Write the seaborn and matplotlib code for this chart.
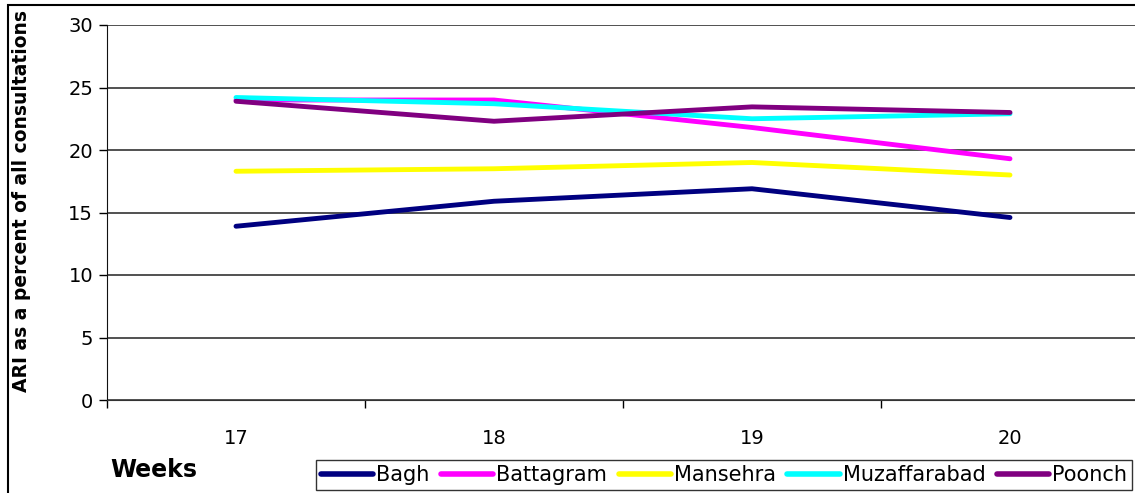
"""
ARI share of consultations by district, weeks 17-20.
"""

import pandas as pd
import matplotlib
matplotlib.use('Agg')
import matplotlib.pyplot as plt
from matplotlib.patches import Rectangle
import seaborn as sns

weeks = ['17', '18', '19', '20']
districts = ['Bagh', 'Battagram', 'Mansehra', 'Muzaffarabad', 'Poonch']
bagh = [13.9, 15.9, 16.9, 14.6]
battagram = [24.0, 24.0, 21.8, 19.3]
mansehra = [18.3, 18.5, 19.0, 18.0]
muzaffarabad = [24.2, 23.7, 22.5, 22.9]
poonch = [23.9, 22.3, 23.45, 23.0]
colors = ['#000080', '#FF00FF', '#FFFF00', '#00FFFF', '#800080']

series = [bagh, battagram, mansehra, muzaffarabad, poonch]
rows = []
for name, vals in zip(districts, series):
    for i, v in enumerate(vals):
        rows.append({'pos': i, 'week': weeks[i], 'district': name, 'ari': v})
df = pd.DataFrame(rows)

sns.set_style('white')
plt.rcParams['font.family'] = ['DejaVu Sans']
plt.rcParams['text.color'] = 'black'
plt.rcParams['xtick.color'] = 'black'
plt.rcParams['ytick.color'] = 'black'
plt.rcParams['axes.labelcolor'] = 'black'

fig = plt.figure(figsize=(11.35, 4.93), dpi=100)
ax = fig.add_axes([107 / 1135, 1 - 400 / 493, 1032 / 1135, 375 / 493])

sns.lineplot(data=df, x='pos', y='ari', hue='district', hue_order=districts,
             palette=colors, linewidth=3.5, sort=False, ax=ax,
             solid_capstyle='round')

ax.set_xlim(-0.5, 3.5)
ax.set_ylim(0, 30)
ax.set_yticks(range(0, 31, 5))
ax.tick_params(axis='y', labelsize=14, length=6, width=1, direction='out',
               left=True, pad=4)
ax.set_xticks([-0.5, 0.5, 1.5, 2.5])
ax.set_xticklabels([])
ax.set_xticks(range(4), minor=True)
ax.set_xticklabels(weeks, minor=True)
ax.tick_params(axis='x', which='major', length=6, width=1, direction='out',
               bottom=True)
ax.tick_params(axis='x', which='minor', length=0, labelsize=14, pad=21)
ax.grid(axis='y', color='#333333', linewidth=1.2)
ax.grid(axis='x', visible=False)
for s in ['top', 'right']:
    ax.spines[s].set_visible(False)
ax.spines['left'].set_color('#111111')
ax.spines['bottom'].set_color('#333333')
ax.set_xlabel('')
ax.set_ylabel('')

fig.text(22 / 1135, 1 - 201 / 493, 'ARI as a percent of all consultations',
         fontsize=13.5, fontweight='bold', rotation=90,
         ha='center', va='center')

handles, labels = ax.get_legend_handles_labels()
ax.get_legend().remove()
leg = fig.legend(handles, labels, loc='upper left', ncol=5,
                 bbox_to_anchor=(316 / 1135, 1 - 460 / 493),
                 frameon=True, fancybox=False, edgecolor='black',
                 fontsize=15, handlelength=2.5, handletextpad=0.15,
                 columnspacing=0.55, borderaxespad=0, borderpad=0.25)
for line in leg.get_lines():
    line.set_linewidth(4)

fig.text(110 / 1135, 1 - 470 / 493, 'Weeks', fontsize=17, fontweight='bold',
         va='center', ha='left')

fig.patches.append(Rectangle((8 / 1135, -0.1), 1.2, 1.1 - 5 / 493,
                             transform=fig.transFigure, fill=False,
                             edgecolor='black', linewidth=1.5))

plt.savefig('out.png', dpi=100)
